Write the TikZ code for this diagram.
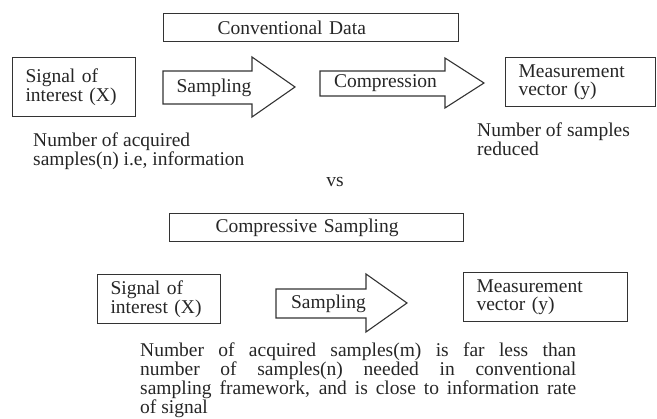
\documentclass[tikz,border=0pt]{standalone}
\usepackage{fontspec}
\setmainfont{Liberation Serif}
\usetikzlibrary{positioning}

\begin{document}
\begin{tikzpicture}[
  x=1pt, y=-1pt,
  font=\fontsize{19.5}{18.5}\selectfont,
  every node/.style={text=black!85},
  block/.style={draw=black!80, line width=1.1pt, anchor=north west, align=left, inner xsep=13pt, inner ysep=0pt, minimum height=49pt},
  title/.style={draw=black!80, line width=1.1pt, anchor=north west, align=left, inner ysep=0pt, minimum height=28pt},
  flow/.style={draw=black!80, line width=1.1pt, line join=miter},
  note/.style={anchor=north west, align=left, inner sep=0pt},
]
  \useasboundingbox (0,0) rectangle (657,419);

  % Conventional data
  \node[title, text width=187pt, inner xsep=54pt] (conv) at (163,13) {Conventional Data};
  \node[block, text width=97pt, minimum height=59pt] (signalA) at (12,57) {Signal of\\interest (X)};
  \draw[flow] (163,71) -- (252,71) -- (252,57) -- (295,87) -- (252,117) -- (252,104) -- (163,104) -- cycle;
  \node (sampA) at (214,87.5) {Sampling};
  \draw[flow] (320,71) -- (445,71) -- (445,58) -- (484,83) -- (445,108) -- (445,96) -- (320,96) -- cycle;
  \node (compr) at (385.5,83.5) {Compression};
  \node[block, text width=124pt] (measA) at (505,57) {Measurement\\vector (y)};
  \node[note] (acq) at (33,133) {Number of acquired\\samples(n) i.e, information};
  \node[note] (reduced) at (477,123) {Number of samples\\reduced};

  \node[anchor=base] (vs) at (335,187) {vs};

  % Compressive sampling
  \node[title, text width=202pt, inner xsep=46pt] (cs) at (169,213) {Compressive Sampling};
  \node[block, text width=97pt] (signalB) at (97,274) {Signal of\\interest (X)};
  \draw[flow] (276,289) -- (366,289) -- (366,274) -- (407,303) -- (366,332) -- (366,318) -- (276,318) -- cycle;
  \node (sampB) at (328.5,303.5) {Sampling};
  \node[block, text width=138pt] (measB) at (463,272) {Measurement\\vector (y)};
  \node[note, text width=436pt, align=justify] (rate) at (140,343)
    {\baselineskip=17.6pt Number of acquired samples(m) is far less than\linebreak
     number of samples(n) needed in conventional\linebreak
     sampling framework, and is close to information rate\linebreak
     of signal\par};
\end{tikzpicture}
\end{document}
